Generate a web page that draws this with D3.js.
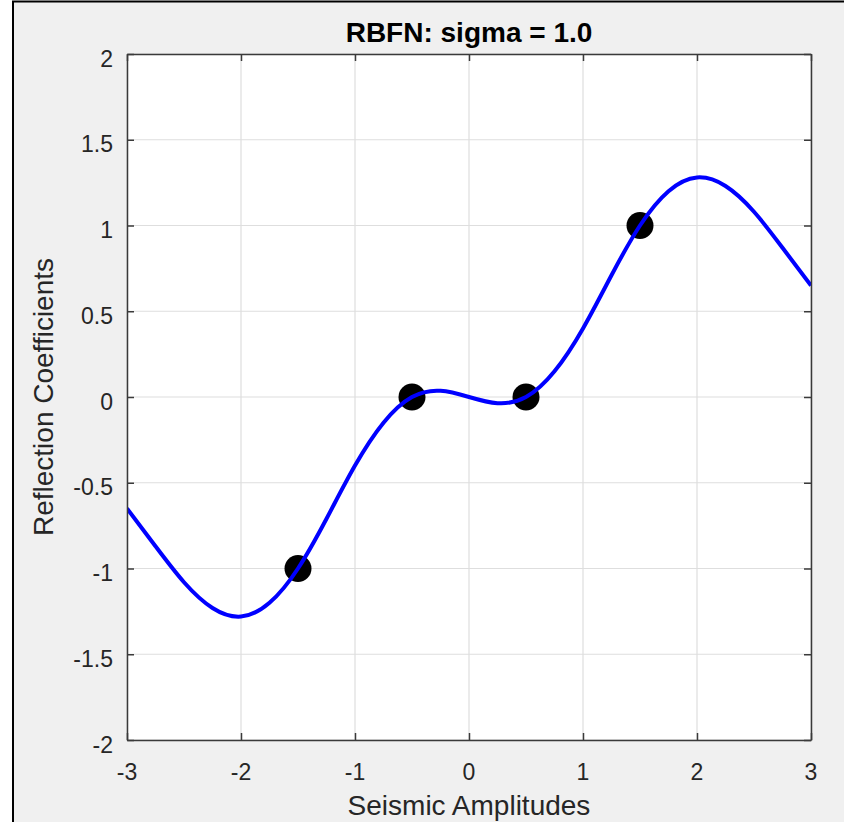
<!DOCTYPE html>
<html>
<head>
<meta charset="utf-8">
<script src="https://cdn.jsdelivr.net/npm/d3@7"></script>
<style>
  html, body { margin: 0; padding: 0; background: #ffffff; }
  svg { display: block; }
  text { font-family: "Liberation Sans", Arial, Helvetica, sans-serif; }
</style>
</head>
<body>
<svg id="chart" width="844" height="822"></svg>
<script>
// ---- data ----
const titleText = "RBFN: sigma = 1.0";
const xLabelText = "Seismic Amplitudes";
const yLabelText = "Reflection Coefficients";

const xTicks = [-3, -2, -1, 0, 1, 2, 3];
const yTicks = [-2, -1.5, -1, -0.5, 0, 0.5, 1, 1.5, 2];

const curveX = [-3, -2.75, -2.5, -2.25, -2, -1.75, -1.5, -1.25, -1, -0.75, -0.5, -0.25, 0,
                0.25, 0.5, 0.75, 1, 1.25, 1.5, 1.75, 2, 2.25, 2.5, 2.75, 3];
const curveY = [-0.65, -0.87, -1.08, -1.23, -1.28, -1.20, -1.0, -0.71, -0.40, -0.15, 0, 0.036, 0,
                -0.036, 0, 0.15, 0.40, 0.71, 1.0, 1.20, 1.28, 1.23, 1.08, 0.87, 0.65];

const pointX = [-1.5, -0.5, 0.5, 1.5];
const pointY = [-1, 0, 0, 1];

// ---- layout ----
const svg = d3.select("#chart");
const pL = 127, pR = 811, pT = 54, pB = 740;

// figure background + frame
svg.append("rect").attr("x", 0).attr("y", 0).attr("width", 844).attr("height", 822).attr("fill", "#ffffff");
svg.append("rect").attr("x", 13).attr("y", 1.5).attr("width", 844).attr("height", 840)
  .attr("fill", "#f0f0f0").attr("stroke", "#000").attr("stroke-width", 2);

const x = d3.scaleLinear().domain([-3, 3]).range([pL, pR]);
const y = d3.scaleLinear().domain([-2, 2]).range([pB, pT]);

// axes background
svg.append("rect").attr("x", pL).attr("y", pT).attr("width", pR - pL).attr("height", pB - pT)
  .attr("fill", "#ffffff");

// grid
const grid = svg.append("g").attr("stroke", "#dedede").attr("stroke-width", 1.2);
grid.selectAll("line.gx").data(xTicks).join("line").attr("class", "gx")
  .attr("x1", d => x(d)).attr("x2", d => x(d)).attr("y1", pT).attr("y2", pB);
grid.selectAll("line.gy").data(yTicks).join("line").attr("class", "gy")
  .attr("x1", pL).attr("x2", pR).attr("y1", d => y(d)).attr("y2", d => y(d));

// clip
svg.append("clipPath").attr("id", "clip").append("rect")
  .attr("x", pL).attr("y", pT).attr("width", pR - pL).attr("height", pB - pT);

const plot = svg.append("g").attr("clip-path", "url(#clip)");

// markers (under the line)
plot.selectAll("circle").data(pointX.map((d, i) => [d, pointY[i]])).join("circle")
  .attr("cx", d => x(d[0])).attr("cy", d => y(d[1])).attr("r", 13.5).attr("fill", "#000");

// line
const line = d3.line().x(d => x(d[0])).y(d => y(d[1])).curve(d3.curveNatural);
plot.append("path").datum(curveX.map((d, i) => [d, curveY[i]]))
  .attr("d", line).attr("fill", "none").attr("stroke", "#0000ff").attr("stroke-width", 4)
  .attr("stroke-linejoin", "round");

// axes with inward ticks on all four sides
const tickLen = 7;
const axisColor = "#3a3a3a";
const fmt = d => String(d);

const gB = svg.append("g").attr("transform", `translate(0,${pB})`)
  .call(d3.axisBottom(x).tickValues(xTicks).tickSizeInner(-tickLen).tickSizeOuter(0).tickFormat(() => ""));
const gT = svg.append("g").attr("transform", `translate(0,${pT})`)
  .call(d3.axisTop(x).tickValues(xTicks).tickSizeInner(-tickLen).tickSizeOuter(0).tickFormat(() => ""));
const gL = svg.append("g").attr("transform", `translate(${pL},0)`)
  .call(d3.axisLeft(y).tickValues(yTicks).tickSizeInner(-tickLen).tickSizeOuter(0).tickFormat(() => ""));
const gR = svg.append("g").attr("transform", `translate(${pR},0)`)
  .call(d3.axisRight(y).tickValues(yTicks).tickSizeInner(-tickLen).tickSizeOuter(0).tickFormat(() => ""));
[gB, gT, gL, gR].forEach(g => {
  g.select(".domain").attr("stroke", axisColor).attr("stroke-width", 1.5);
  g.selectAll(".tick line").attr("stroke", axisColor).attr("stroke-width", 1.5);
});

// tick labels
svg.append("g").selectAll("text").data(xTicks).join("text")
  .attr("x", d => x(d)).attr("y", 780).attr("text-anchor", "middle")
  .attr("font-size", 23).attr("fill", "#262626").text(fmt);
svg.append("g").selectAll("text").data(yTicks).join("text")
  .attr("x", 113).attr("y", d => y(d) + 12.5).attr("text-anchor", "end")
  .attr("font-size", 23).attr("fill", "#262626").text(fmt);

// title and labels
svg.append("text").attr("x", (pL + pR) / 2).attr("y", 42).attr("text-anchor", "middle")
  .attr("font-size", 28).attr("font-weight", "bold").attr("fill", "#000").text(titleText);
svg.append("text").attr("x", (pL + pR) / 2).attr("y", 815).attr("text-anchor", "middle")
  .attr("font-size", 28).attr("fill", "#262626").text(xLabelText);
svg.append("text").attr("transform", `translate(53,${(pT + pB) / 2}) rotate(-90)`)
  .attr("text-anchor", "middle").attr("font-size", 28).attr("fill", "#262626").text(yLabelText);
</script>
</body>
</html>
